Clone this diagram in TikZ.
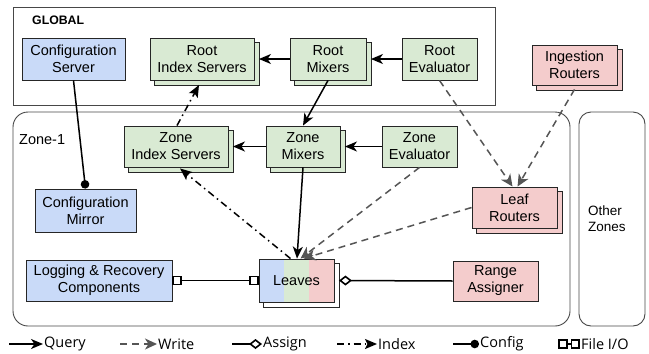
\documentclass[tikz,border=0pt]{standalone}
\usepackage{fontspec}
\setmainfont{Liberation Sans}
\newfontfamily\legendfont{Open Sans}
\usetikzlibrary{arrows.meta,calc,backgrounds}

\definecolor{cblue}{HTML}{C9DAF8}
\definecolor{cgreen}{HTML}{D9EAD3}
\definecolor{cred}{HTML}{F4CCCC}
\definecolor{wgray}{HTML}{555555}
\definecolor{edge}{HTML}{262626}

\tikzset{
  box/.style={draw=edge, line width=0.9pt, align=center, inner sep=0pt,
    font=\fontsize{14.5}{17}\selectfont},
  bluebox/.style={box, fill=cblue},
  greenbox/.style={box, fill=cgreen},
  redbox/.style={box, fill=cred},
  dims/.style 2 args={minimum width=#1pt, minimum height=#2pt},
  region/.style={draw=edge!85, line width=0.9pt},
  query/.style={line width=1.5pt, -{Stealth[length=12pt,width=10pt,inset=3.5pt]}},
  write/.style={wgray, line width=1.5pt, dash pattern=on 7pt off 5pt,
    -{Stealth[length=12pt,width=11pt,inset=3.5pt]}},
  index/.style={line width=1.5pt, dash pattern=on 7pt off 4pt on 1.5pt off 4pt,
    -{Stealth[length=12pt,width=10pt,inset=2.5pt]}},
  config/.style={line width=1.5pt, -{Circle[length=8.5pt]}},
  sqtip/.style={Square[open,length=9.5pt,width=9.5pt,line width=1.6pt]},
  fileio/.style={line width=1.5pt, {Square[open,length=9.5pt,width=9.5pt,line width=1.6pt]}-{Square[open,length=9.5pt,width=9.5pt,line width=1.6pt]}},
  assign/.style={line width=1.5pt, -{Diamond[open,length=13pt,width=10pt,line width=1.6pt]}},
  legendtext/.style={anchor=west, inner sep=1pt, font=\legendfont\fontsize{14.5}{17}\selectfont},
}

% stacked copy behind a box
\newcommand{\stackbehind}[2]{%
  \begin{pgfonlayer}{background}
    \draw[draw=edge, line width=0.9pt, fill=#2]
      ([shift={(4.5pt,-4.5pt)}]#1.south west) rectangle ([shift={(4.5pt,-4.5pt)}]#1.north east);
  \end{pgfonlayer}}

\begin{document}
\begin{tikzpicture}[x=1pt, y=-1pt]
\useasboundingbox (0,0) rectangle (649,354);

% regions
\draw[region] (13,7) rectangle (495,105);
\node[anchor=west, inner sep=0pt, font=\bfseries\fontsize{12.3}{14}\selectfont] (globallbl) at (32,20) {GLOBAL};
\draw[region, rounded corners=15pt] (13,112) rectangle (570,326);
\node[anchor=west, inner sep=0pt, font=\fontsize{14.5}{17}\selectfont] (zonelbl) at (19,140) {Zone-1};
\draw[region, rounded corners=12pt] (579,112) rectangle (645,326);
\node[anchor=west, align=left, inner sep=0pt, font=\fontsize{13.5}{16}\selectfont] (otherlbl) at (588,219) {Other\\Zones};

% global components
\node[bluebox, dims={103}{42}] (cfgsrv) at (73.5,59) {Configuration\\Server};
\node[greenbox, dims={104}{42}] (rootidx) at (202,59) {Root\\Index Servers};
\node[greenbox, dims={76}{42}] (rootmix) at (328,59) {Root\\Mixers};
\node[greenbox, dims={75}{42}] (rooteval) at (439.5,59) {Root\\Evaluator};
\node[redbox, dims={85}{40}] (ingest) at (574.5,65) {Ingestion\\Routers};

% zone components
\node[greenbox, dims={104}{41}] (zoneidx) at (176,146.5) {Zone\\Index Servers};
\node[greenbox, dims={74}{41}] (zonemix) at (303,146.5) {Zone\\Mixers};
\node[greenbox, dims={75}{41}] (zoneeval) at (419.5,146.5) {Zone\\Evaluator};
\node[redbox, dims={85}{41}] (leafrt) at (514.5,207.5) {Leaf\\Routers};
\node[bluebox, dims={101}{43}] (cfgmir) at (85.5,210.5) {Configuration\\Mirror};
\node[bluebox, dims={146}{41}] (logging) at (99,280.5) {Logging \& Recovery\\Components};
\node[box, dims={75}{43}, path picture={
    \fill[cblue] (path picture bounding box.south west) rectangle
      ($(path picture bounding box.north west)!1/3!(path picture bounding box.north east)$);
    \fill[cgreen] ($(path picture bounding box.south west)!1/3!(path picture bounding box.south east)$) rectangle
      ($(path picture bounding box.north west)!2/3!(path picture bounding box.north east)$);
    \fill[cred] ($(path picture bounding box.south west)!2/3!(path picture bounding box.south east)$) rectangle
      (path picture bounding box.north east);
  }] (leaves) at (296.5,280.5) {Leaves};
\node[redbox, dims={85}{40}] (range) at (495.5,281) {Range\\Assigner};

% stacked replicas
\stackbehind{rootidx}{cgreen}
\stackbehind{rootmix}{cgreen}
\stackbehind{ingest}{cred}
\stackbehind{zoneidx}{cgreen}
\stackbehind{zonemix}{cgreen}
\stackbehind{leafrt}{cred}
\stackbehind{leaves}{white}

% query paths
\draw[query] (rootmix.west) -- ([xshift=4.5pt]rootidx.east);
\draw[query] (rooteval.west) -- ([xshift=4.5pt]rootmix.east);
\draw[query] (zonemix.west) -- ([xshift=4.5pt]zoneidx.east);
\draw[query] (zoneeval.west) -- ([xshift=4.5pt]zonemix.east);
\draw[query] (rootmix.south) -- (zonemix.north);
\draw[query] (zonemix.south) -- ([xshift=0.5pt]leaves.north);

% config
\draw[config] (cfgsrv.south) -- (cfgmir.north);

% index paths
\draw[index] ([xshift=-6pt]leaves.north) -- ([xshift=4pt,yshift=-1pt]zoneidx.south);
\draw[index] ([xshift=1pt]zoneidx.north) -- ([xshift=-3pt,yshift=-4.5pt]rootidx.south);

% write paths
\draw[write] (rooteval.south) -- ([xshift=-2pt]leafrt.north);
\draw[write] ([yshift=-4pt]ingest.south) -- ([xshift=3pt]leafrt.north);
\draw[write] (zoneeval.south) -- ([xshift=4pt]leaves.north);
\draw[write] (leafrt.west) -- ([xshift=7pt]leaves.north);

% file i/o and assignment
\draw[fileio] (logging.east) -- (leaves.west);
\draw[assign] (range.west) -- ([xshift=4.5pt]leaves.east);

% legend
\coordinate (lq) at (9,344);
\node[legendtext] (lqt) at (43,344) {Query};
\draw[query] (lq) -- (lqt.west);
\coordinate (lw) at (120,344);
\node[legendtext] (lwt) at (157,344) {Write};
\draw[write] (lw) -- (lwt.west);
\coordinate (la) at (232,344);
\node[legendtext] (lat) at (262,344) {Assign};
\draw[assign] (la) -- (lat.west);
\coordinate (li) at (337,344);
\node[legendtext] (lit) at (377,344) {Index};
\draw[index] (li) -- (lit.west);
\coordinate (lc) at (453,344);
\node[legendtext] (lct) at (479,344) {Config};
\draw[config] (lc) -- (lct.west);
\coordinate (lf) at (558,344);
\node[legendtext] (lft) at (580,344) {File I/O};
\draw[fileio] (lf) -- (lft.west);
\end{tikzpicture}
\end{document}
